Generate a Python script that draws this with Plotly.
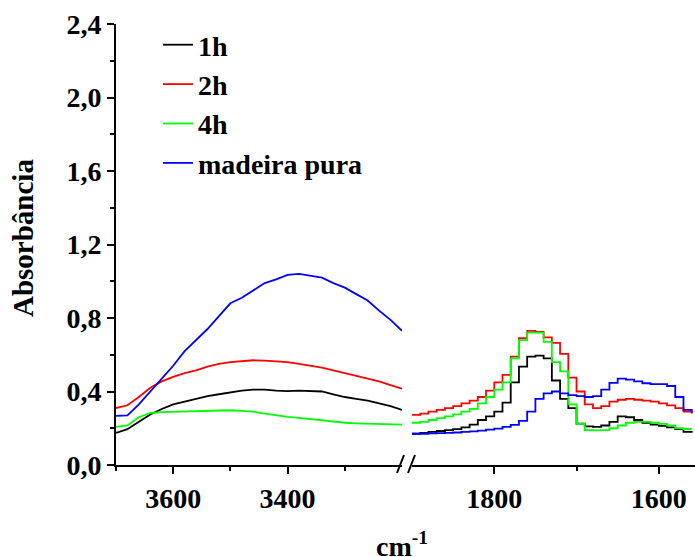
import plotly.graph_objects as go

# ---- data: left panel (O-H region) ----
wn_left = [3700, 3680, 3660, 3640, 3620, 3600, 3580, 3560, 3540, 3520, 3500, 3480, 3460,
           3440, 3420, 3400, 3380, 3360, 3340, 3320, 3300, 3280, 3260, 3240, 3220, 3200]
h1_left = [0.175, 0.195, 0.235, 0.275, 0.305, 0.33, 0.345, 0.36, 0.375, 0.385, 0.395, 0.405, 0.41,
           0.41, 0.405, 0.402, 0.405, 0.403, 0.40, 0.385, 0.37, 0.36, 0.35, 0.335, 0.32, 0.30]
h2_left = [0.31, 0.325, 0.37, 0.42, 0.455, 0.48, 0.50, 0.515, 0.535, 0.55, 0.56, 0.565, 0.57,
           0.568, 0.565, 0.56, 0.55, 0.54, 0.53, 0.515, 0.50, 0.485, 0.47, 0.455, 0.435, 0.415]
h4_left = [0.207, 0.215, 0.26, 0.283, 0.288, 0.29, 0.292, 0.295, 0.298, 0.30, 0.298, 0.295, 0.29,
           0.28, 0.27, 0.262, 0.257, 0.25, 0.245, 0.235, 0.23, 0.227, 0.225, 0.223, 0.221, 0.22]
pura_left = [0.267, 0.27, 0.33, 0.40, 0.47, 0.54, 0.62, 0.68, 0.74, 0.81, 0.88, 0.91, 0.95,
             0.99, 1.01, 1.035, 1.04, 1.03, 1.02, 0.99, 0.965, 0.93, 0.895, 0.84, 0.79, 0.73]

# ---- data: right panel (C=O region) ----
wn_right = [1900, 1890, 1880, 1870, 1860, 1850, 1840, 1830, 1820, 1810, 1800, 1790,
            1780, 1770, 1760, 1750, 1740, 1730, 1720, 1710, 1700, 1690, 1680, 1670,
            1660, 1650, 1640, 1630, 1620, 1610, 1600, 1590, 1580, 1570, 1560]
h1_right = [0.17, 0.175, 0.18, 0.185, 0.19, 0.195, 0.205, 0.22, 0.245, 0.265, 0.29, 0.34,
            0.45, 0.535, 0.59, 0.595, 0.58, 0.46, 0.36, 0.31, 0.225, 0.21, 0.207, 0.215,
            0.235, 0.265, 0.26, 0.245, 0.23, 0.22, 0.213, 0.205, 0.196, 0.18, 0.175]
h2_right = [0.273, 0.28, 0.29, 0.30, 0.31, 0.32, 0.335, 0.35, 0.37, 0.405, 0.45, 0.49,
            0.59, 0.69, 0.73, 0.725, 0.695, 0.665, 0.605, 0.475, 0.40, 0.33, 0.31, 0.32,
            0.345, 0.355, 0.36, 0.355, 0.35, 0.345, 0.335, 0.325, 0.31, 0.29, 0.28]
h4_right = [0.23, 0.235, 0.245, 0.255, 0.265, 0.275, 0.29, 0.305, 0.335, 0.37, 0.41, 0.45,
            0.58, 0.68, 0.72, 0.72, 0.67, 0.56, 0.51, 0.33, 0.224, 0.19, 0.188, 0.19,
            0.20, 0.215, 0.23, 0.235, 0.235, 0.23, 0.224, 0.215, 0.20, 0.196, 0.196]
pura_right = [0.17, 0.17, 0.172, 0.173, 0.175, 0.177, 0.18, 0.183, 0.187, 0.192, 0.198, 0.207,
              0.218, 0.24, 0.29, 0.36, 0.39, 0.40, 0.39, 0.38, 0.375, 0.37, 0.375, 0.41,
              0.447, 0.47, 0.465, 0.455, 0.445, 0.44, 0.44, 0.43, 0.37, 0.30, 0.285]

names = ["1h", "2h", "4h", "madeira pura"]
colors = ["#000000", "#ff0000", "#00ff00", "#0000ff"]
left_sets = [h1_left, h2_left, h4_left, pura_left]
right_sets = [h1_right, h2_right, h4_right, pura_right]

left_major = [3600, 3400]
left_minor = [3700, 3500, 3300]
right_major = [1800, 1600]
right_minor = [1700]

FONT = "Liberation Serif"
FS = 28

fig = go.Figure()
for name, col, yl in zip(names, colors, left_sets):
    fig.add_trace(go.Scatter(x=wn_left, y=yl, name=name, mode="lines",
                             line=dict(color=col, width=1.8),
                             xaxis="x", yaxis="y", showlegend=True))
for name, col, yr in zip(names, colors, right_sets):
    fig.add_trace(go.Scatter(x=wn_right, y=yr, name=name, mode="lines",
                             line=dict(color=col, width=1.8, shape="hv"),
                             xaxis="x2", yaxis="y", showlegend=False))

W, H = 695, 557
ml, mr, mt, mb = 116, 0, 24, 92
pw = W - ml - mr
ph = H - mt - mb

def px2x(px):
    return (px - ml) / pw

def py2y(py):
    return (H - mb - py) / ph

tickfont = dict(family=FONT, size=FS, color="black", weight="bold")
axis_common = dict(showline=True, linecolor="black", linewidth=2, ticks="outside",
                   ticklen=7, tickwidth=2, tickcolor="black", showgrid=False,
                   zeroline=False, tickfont=tickfont, automargin=False)
minor_common = dict(ticks="outside", ticklen=4, tickwidth=2, tickcolor="black", showgrid=False)

fig.update_layout(
    width=W, height=H,
    margin=dict(l=ml, r=mr, t=mt, b=mb, autoexpand=False),
    paper_bgcolor="white", plot_bgcolor="white",
    separators=", ",
    font=dict(family=FONT, color="black"),
    xaxis=dict(domain=[0, px2x(402)], range=[3700, 3200], anchor="y",
               tickmode="array", tickvals=left_major,
               minor=dict(tickvals=left_minor, **minor_common),
               **axis_common),
    xaxis2=dict(domain=[px2x(412), 1], range=[1900, 1556], anchor="y",
                tickmode="array", tickvals=right_major,
                minor=dict(tickvals=right_minor, **minor_common),
                **axis_common),
    yaxis=dict(range=[0, 2.4], tick0=0, dtick=0.4, tickformat=".1f",
               minor=dict(dtick=0.2, **minor_common),
               **axis_common),
    legend=dict(x=px2x(158), y=py2y(20), xanchor="left", yanchor="top",
                bgcolor="rgba(0,0,0,0)",
                font=dict(family=FONT, size=FS, color="black", weight="bold"),
                tracegroupgap=0),
    annotations=[
        dict(text="cm<sup>-1</sup>", xref="paper", yref="paper",
             x=px2x(402), y=py2y(564), xanchor="center", yanchor="bottom",
             showarrow=False, font=dict(family=FONT, size=FS, color="black", weight="bold")),
        dict(text="Absorbância", xref="paper", yref="paper", textangle=-90,
             x=px2x(23), y=py2y(238), xanchor="center", yanchor="middle",
             showarrow=False, font=dict(family=FONT, size=29, color="black", weight="bold")),
    ],
    shapes=[
        dict(type="line", xref="paper", yref="paper",
             x0=px2x(397), y0=py2y(473), x1=px2x(404), y1=py2y(455),
             line=dict(color="black", width=2)),
        dict(type="line", xref="paper", yref="paper",
             x0=px2x(408), y0=py2y(473), x1=px2x(415), y1=py2y(455),
             line=dict(color="black", width=2)),
    ],
)

fig.write_html("out.html", config={"displayModeBar": False},
               post_script="document.body.style.margin='0';document.body.style.overflow='hidden';")
